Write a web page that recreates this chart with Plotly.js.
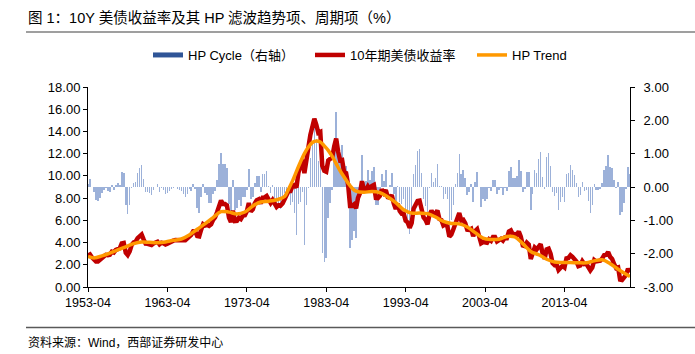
<!DOCTYPE html>
<html><head><meta charset="utf-8">
<script src="https://cdn.plot.ly/plotly-3.0.1.min.js"></script>
<style>html,body{margin:0;padding:0;background:#fff}#chart{width:695px;height:354px}</style>
</head><body><div id="chart"></div>
<script>
// Quarterly observations (Jan/Apr/Jul/Oct), first one 1953-04
const startYear = 1953, startMonth = 4;

const yield10y = [
  2.83, 2.93, 2.66,
  2.48, 2.29, 2.30, 2.43,
  2.61, 2.78, 2.90, 2.87,
  2.90, 3.18, 3.11, 3.34,
  3.46, 3.48, 3.93, 3.97,
  3.09, 2.88, 3.21, 3.80,
  4.02, 4.08, 4.40, 4.57,
  4.72, 4.28, 3.90, 3.89,
  3.84, 3.78, 3.92, 3.98,
  4.08, 3.84, 3.99, 3.93,
  3.83, 3.90, 4.02, 4.11,
  4.17, 4.23, 4.20, 4.19,
  4.19, 4.20, 4.20, 4.38,
  4.61, 4.69, 5.02, 5.01,
  4.58, 4.55, 5.16, 5.65,
  5.53, 5.59, 5.50, 5.64,
  6.04, 6.26, 6.72, 7.33,
  7.79, 7.46, 7.46, 7.33,
  6.24, 5.83, 6.87, 5.93,
  5.95, 6.23, 6.11, 6.42,
  6.46, 6.81, 7.55, 6.79,
  6.99, 7.51, 7.81, 7.90,
  7.50, 8.05, 8.06, 8.19,
  7.74, 7.56, 7.83, 7.41,
  7.21, 7.37, 7.33, 7.52,
  7.96, 8.15, 8.64, 8.64,
  9.10, 9.18, 8.95, 10.30,
  10.80, 11.47, 10.25, 11.75,
  12.57, 13.68, 14.28, 15.15,
  14.59, 13.87, 13.95, 10.91,
  10.46, 10.38, 11.38, 11.54,
  11.67, 12.65, 13.36, 12.16,
  11.38, 11.43, 10.31, 10.24,
  9.19, 7.30, 7.30, 7.43,
  7.08, 8.02, 8.45, 9.52,
  8.67, 8.72, 9.06, 8.80,
  9.09, 9.18, 8.02, 8.00,
  8.21, 8.79, 8.47, 8.72,
  8.09, 8.04, 8.27, 7.53,
  7.03, 7.48, 6.84, 6.59,
  6.60, 5.97, 5.81, 5.33,
  5.75, 7.04, 7.30, 7.74,
  7.78, 7.06, 6.28, 6.04,
  5.65, 6.51, 6.87, 6.53,
  6.58, 6.89, 6.12, 6.03,
  5.54, 5.64, 5.46, 4.53,
  4.72, 5.18, 5.79, 6.11,
  6.66, 5.99, 6.05, 5.74,
  5.16, 5.14, 5.24, 4.57,
  5.04, 5.21, 4.65, 3.94,
  4.05, 3.96, 3.98, 4.29,
  4.15, 4.50, 4.50, 4.10,
  4.22, 4.34, 4.18, 4.46,
  4.42, 4.99, 5.09, 4.73,
  4.76, 4.69, 5.00, 4.53,
  3.74, 3.68, 3.99, 3.81,
  2.52, 2.93, 3.56, 3.39,
  3.73, 3.85, 3.01, 2.54,
  3.39, 3.46, 3.00, 2.15,
  1.97, 2.05, 1.53, 1.75,
  1.91, 1.76, 2.58, 2.62,
  2.86, 2.71, 2.54, 2.30,
  1.88, 1.94, 2.32, 2.07,
  2.09, 1.81, 1.50, 1.76,
  2.43, 2.30, 2.32, 2.36,
  2.58, 2.87, 2.89, 3.15,
  2.71, 2.53, 2.06, 1.71,
  1.76, 0.66, 0.62, 0.79,
  1.08, 1.64, 1.32
];

const hpCycle = [
  0.08, 0.23, 0.00,
  -0.14, -0.38, -0.41, -0.33,
  -0.19, -0.08, -0.03, -0.12,
  -0.15, 0.06, -0.09, 0.07,
  0.11, 0.06, 0.45, 0.42,
  -0.53, -0.81, -0.55, -0.03,
  0.12, 0.14, 0.43, 0.56,
  0.67, 0.24, -0.14, -0.14,
  -0.18, -0.23, -0.08, -0.01,
  0.10, -0.16, -0.03, -0.10,
  -0.22, -0.19, -0.11, -0.05,
  -0.03, 0.00, -0.06, -0.10,
  -0.13, -0.21, -0.30, -0.21,
  -0.07, -0.12, 0.08, -0.06,
  -0.62, -0.78, -0.29, 0.08,
  -0.17, -0.25, -0.48, -0.47,
  -0.21, -0.12, 0.21, 0.68,
  1.01, 0.69, 0.70, 0.58,
  -0.50, -0.87, 0.21, -0.69,
  -0.63, -0.39, -0.56, -0.29,
  -0.29, -0.08, 0.53, -0.37,
  -0.31, 0.12, 0.34, 0.34,
  -0.15, 0.38, 0.38, 0.49,
  0.02, -0.19, 0.05, -0.41,
  -0.64, -0.55, -0.67, -0.55,
  -0.19, -0.32, -0.16, -0.53,
  -0.45, -0.79, -1.45, -0.52,
  -0.45, -0.15, -1.75, -0.55,
  -0.03, 0.88, 1.28, 2.08,
  1.45, 0.77, 0.90, -1.97,
  -2.24, -2.12, -0.92, -0.48,
  -0.08, 1.23, 2.26, 1.39,
  0.93, 1.26, 0.41, 0.62,
  -0.16, -1.82, -1.60, -1.33,
  -1.54, -0.58, -0.12, 0.97,
  0.15, 0.18, 0.50, 0.22,
  0.49, 0.61, -0.53, -0.53,
  -0.29, 0.39, 0.17, 0.52,
  -0.01, 0.07, 0.42, -0.20,
  -0.57, 0.04, -0.44, -0.52,
  -0.35, -0.91, -0.99, -1.40,
  -0.90, 0.39, 0.65, 1.09,
  1.13, 0.42, -0.35, -0.57,
  -0.95, -0.02, 0.42, 0.16,
  0.28, 0.69, 0.02, 0.03,
  -0.36, -0.22, -0.35, -1.24,
  -1.00, -0.53, 0.09, 0.42,
  0.98, 0.38, 0.51, 0.27,
  -0.24, -0.14, 0.09, -0.46,
  0.14, 0.44, 0.00, -0.59,
  -0.35, -0.41, -0.36, -0.02,
  -0.13, 0.22, 0.21, -0.20,
  -0.08, -0.02, -0.25, -0.03,
  -0.13, 0.47, 0.59, 0.26,
  0.26, 0.34, 0.80, 0.48,
  -0.16, -0.05, 0.44, 0.44,
  -0.68, -0.20, 0.51, 0.42,
  0.83, 1.05, 0.31, -0.06,
  0.89, 1.02, 0.63, -0.16,
  -0.28, -0.19, -0.70, -0.46,
  -0.29, -0.44, 0.38, 0.42,
  0.66, 0.52, 0.35, 0.12,
  -0.30, -0.24, 0.14, -0.11,
  -0.09, -0.41, -0.77, -0.55,
  0.08, -0.08, -0.08, -0.07,
  0.13, 0.51, 0.62, 0.96,
  0.61, 0.56, 0.21, -0.02,
  0.16, -0.83, -0.76, -0.47,
  -0.07, 0.60, 0.38
];

const trendDates = [
  '1953-04-01','1954-01-01','1955-01-01','1956-01-01','1957-01-01','1958-01-01','1959-01-01','1960-01-01',
  '1961-01-01','1962-01-01','1963-01-01','1964-01-01','1965-01-01','1966-01-01','1967-01-01','1968-01-01',
  '1969-01-01','1970-01-01','1971-01-01','1972-01-01','1973-01-01','1974-01-01','1975-01-01','1976-01-01',
  '1977-01-01','1978-01-01','1978-07-01','1979-01-01','1979-07-01','1980-01-01','1980-07-01','1981-01-01',
  '1981-07-01','1982-01-01','1982-07-01','1983-01-01','1983-07-01','1984-01-01','1984-07-01','1985-01-01',
  '1985-07-01','1986-01-01','1986-07-01','1987-01-01','1988-01-01','1989-01-01','1990-01-01','1991-01-01',
  '1992-01-01','1993-01-01','1994-01-01','1995-01-01','1996-01-01','1997-01-01','1998-01-01','1999-01-01',
  '2000-01-01','2001-01-01','2002-01-01','2003-01-01','2004-01-01','2005-01-01','2006-01-01','2007-01-01',
  '2008-01-01','2009-01-01','2010-01-01','2011-01-01','2012-01-01','2013-01-01','2014-01-01','2015-01-01',
  '2016-01-01','2017-01-01','2018-01-01','2019-01-01','2020-01-01','2021-01-01','2021-07-01'
];
const trendValues = [
  2.75, 2.62, 2.80, 3.05, 3.35, 3.62, 3.90, 4.05,
  4.02, 3.98, 4.05, 4.20, 4.32, 4.68, 5.20, 5.70,
  6.25, 6.78, 6.74, 6.58, 6.75, 7.30, 7.65, 7.72,
  7.85, 8.15, 8.80, 9.55, 10.40, 11.25, 12.00, 12.60,
  13.00, 13.14, 13.05, 12.70, 12.30, 11.75, 11.10, 10.45,
  9.90, 9.35, 8.90, 8.62, 8.52, 8.60, 8.50, 8.10,
  7.60, 6.95, 6.65, 6.65, 6.60, 6.30, 5.90, 5.72,
  5.68, 5.40, 4.90, 4.40, 4.28, 4.30, 4.55, 4.50,
  3.90, 3.20, 2.90, 2.50, 2.25, 2.20, 2.20, 2.18,
  2.18, 2.35, 2.45, 2.10, 1.60, 1.15, 0.94
];

const xTickVals = ['1953-04-01','1963-04-01','1973-04-01','1983-04-01','1993-04-01','2003-04-01','2013-04-01'];
const xTickText = ['1953-04','1963-04','1973-04','1983-04','1993-04','2003-04','2013-04'];
const rightTickVals = [-3,-2,-1,0,1,2,3];
const rightTickText = ['-3.00','-2.00','-1.00','0.00','1.00','2.00','3.00'];

const dates = yield10y.map((_, i) => {
  const m = (startMonth - 1) + 3 * i;
  const y = startYear + Math.floor(m / 12);
  const mm = (m % 12) + 1;
  return y + '-' + String(mm).padStart(2, '0') + '-01';
});

const FONT = '"Liberation Sans", Arial, "Noto Sans CJK SC", sans-serif';

const traces = [
  { type: 'bar', x: dates, y: hpCycle, yaxis: 'y', xaxis: 'x',
    marker: { color: '#9cb1d9', line: { width: 0 } },
    width: 70 * 86400000, showlegend: false, hoverinfo: 'skip' },
  { type: 'scatter', mode: 'lines', x: [null], y: [null], yaxis: 'y2',
    name: 'HP Cycle（右轴）', line: { color: '#2f5597', width: 5 } },
  { type: 'scatter', mode: 'lines', x: dates, y: yield10y, yaxis: 'y2',
    name: '10年期美债收益率', line: { color: '#c00000', width: 4.5 } },
  { type: 'scatter', mode: 'lines', x: trendDates, y: trendValues, yaxis: 'y2',
    name: 'HP Trend', line: { color: '#ff9900', width: 3.5, shape: 'spline', smoothing: 1 } }
];

const layout = {
  width: 695, height: 354,
  margin: { l: 88, r: 65, t: 87, b: 67 },
  paper_bgcolor: '#fff', plot_bgcolor: '#fff',
  font: { family: FONT, size: 13, color: '#000' },
  title: { text: '图 1：10Y 美债收益率及其 HP 滤波趋势项、周期项（%）',
    xref: 'container', yref: 'container', x: 28 / 695, xanchor: 'left',
    y: 1 - 17.5 / 354, yanchor: 'middle',
    font: { family: FONT, size: 14.5, color: '#000' } },
  showlegend: true,
  legend: { orientation: 'h', xref: 'container', x: 148 / 695, xanchor: 'left',
    yref: 'container', y: 1 - 55 / 354, yanchor: 'middle',
    font: { family: FONT, size: 13, color: '#000' }, bgcolor: 'rgba(0,0,0,0)',
    entrywidth: 117, traceorder: 'normal' },
  bargap: 0,
  xaxis: { type: 'date', range: ['1953-04-01', '2021-07-01'], tickmode: 'array', tickvals: xTickVals, ticktext: xTickText,
    showgrid: false, zeroline: false, showline: true, linecolor: '#000', linewidth: 1,
    ticks: 'outside', ticklen: 4, tickcolor: '#000', tickfont: { size: 12.5 }, fixedrange: true },
  yaxis: { range: [-3, 3], side: 'right', tickmode: 'array', tickvals: rightTickVals, ticktext: rightTickText,
    showgrid: false, zeroline: false, showline: true, linecolor: '#000', linewidth: 1,
    ticks: 'outside', ticklen: 4, tickcolor: '#000', ticklabelstandoff: 6 },
  yaxis2: { range: [0, 18], dtick: 2, tick0: 0, tickformat: '.2f', side: 'left', overlaying: 'y',
    showgrid: false, zeroline: false, showline: true, linecolor: '#000', linewidth: 1,
    ticks: 'outside', ticklen: 4, tickcolor: '#000' },
  shapes: [
    { type: 'line', xref: 'paper', yref: 'paper', x0: (26 - 88) / 542, x1: (695 - 88) / 542,
      y0: (287 - 32) / 200, y1: (287 - 32) / 200, line: { color: '#7f7f7f', width: 1.5 } },
    { type: 'line', xref: 'paper', yref: 'paper', x0: (26 - 88) / 542, x1: (695 - 88) / 542,
      y0: (287 - 327.5) / 200, y1: (287 - 327.5) / 200, line: { color: '#595959', width: 1.5 } }
  ],
  annotations: [
    { text: '资料来源：Wind，西部证券研发中心', xref: 'paper', yref: 'paper',
      x: (26 - 88) / 542, xanchor: 'left', y: (287 - 342) / 200, yanchor: 'middle', showarrow: false,
      font: { family: FONT, size: 12, color: '#000' } }
  ]
};

Plotly.newPlot('chart', traces, layout, { staticPlot: true, displayModeBar: false });
</script>
</body></html>
